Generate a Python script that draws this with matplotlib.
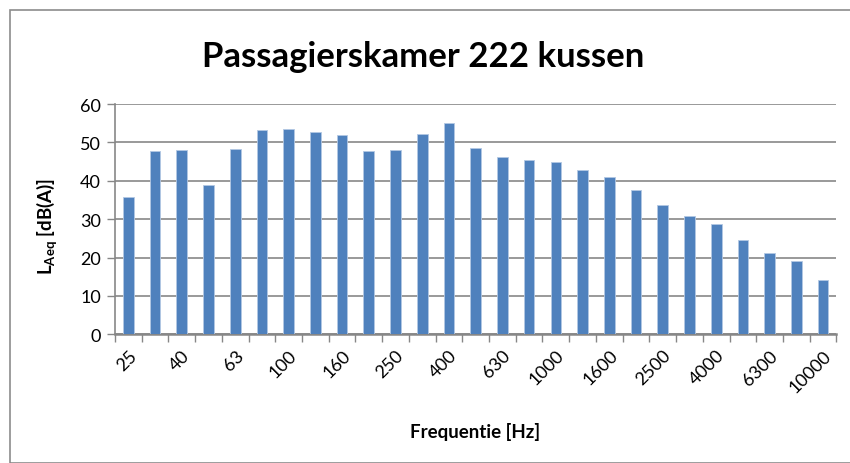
import matplotlib
matplotlib.use("Agg")
import matplotlib.pyplot as plt
from matplotlib.patches import Rectangle

# Third-octave band centre frequencies [Hz] and measured levels [dB(A)]
freqs = ["25", "31.5", "40", "50", "63", "80", "100", "125", "160", "200",
         "250", "315", "400", "500", "630", "800", "1000", "1250", "1600",
         "2000", "2500", "3150", "4000", "5000", "6300", "8000", "10000"]
laeq = [35.8, 47.7, 48.1, 38.8, 48.4, 53.2, 53.6, 52.8, 51.9, 47.7,
        48.0, 52.1, 55.0, 48.6, 46.3, 45.5, 44.9, 42.8, 40.9,
        37.5, 33.6, 30.8, 28.7, 24.5, 21.3, 19.0, 14.2]

plt.rcParams['font.family'] = ['Lato', 'DejaVu Sans']
plt.rcParams['mathtext.fontset'] = 'custom'
plt.rcParams['mathtext.bf'] = 'Lato:bold'
plt.rcParams['mathtext.rm'] = 'Lato'

BAR = '#4F81BD'
GRID = '#878787'

fig = plt.figure(figsize=(8.5, 4.64), dpi=100)
ax = fig.add_axes([0.1353, 0.2774, 0.8487, 0.4963])

# chart frame
fig.patches.append(Rectangle((10 / 850, 0), 1.5, 1 - 11 / 464, transform=fig.transFigure,
                             fill=False, edgecolor='#8c8c8c', linewidth=1.2))

x = list(range(len(freqs)))
ax.bar(x, laeq, width=0.4, color=BAR, edgecolor='#b3c8e3', linewidth=0.6, zorder=3)

ax.set_xlim(-0.5, len(freqs) - 0.5)
ax.set_ylim(0, 60)
ax.set_yticks(range(0, 61, 10))
ax.yaxis.grid(True, color=GRID, linewidth=1.2, zorder=0)
ax.tick_params(axis='y', length=6, width=1, color=GRID, labelsize=13, pad=4)

# ticks between categories, labels on every other band
ax.set_xticks([i - 0.5 for i in range(len(freqs) + 1)], minor=False)
ax.set_xticklabels([])
ax.tick_params(axis='x', which='major', length=6, width=1, color=GRID)
ax.set_xticks(x[::2], minor=True)
ax.set_xticklabels(freqs[::2], minor=True, rotation=45, ha='right',
                   rotation_mode='anchor', fontsize=13)
ax.tick_params(axis='x', which='minor', length=0, pad=9)

for s in ['top', 'right']:
    ax.spines[s].set_visible(False)
ax.spines['left'].set_color(GRID)
ax.spines['left'].set_linewidth(1.2)
ax.spines['bottom'].set_color(GRID)
ax.spines['bottom'].set_linewidth(1.8)

fig.text(0.498, 0.878, "Passagierskamer 222 kussen", ha='center', va='center',
         fontsize=25, fontweight='bold')
fig.text(0.559, 0.068, "Frequentie [Hz]", ha='center', va='center',
         fontsize=13.5, fontweight='bold')

# y label with subscripted Aeq
fig.text(0.055, 1 - 227 / 464, r'$\mathbf{L_{Aeq}}$ [dB(A)]', rotation=90,
         ha='center', va='center', fontsize=13.5, fontweight='bold')

fig.savefig("out.png", dpi=100)
